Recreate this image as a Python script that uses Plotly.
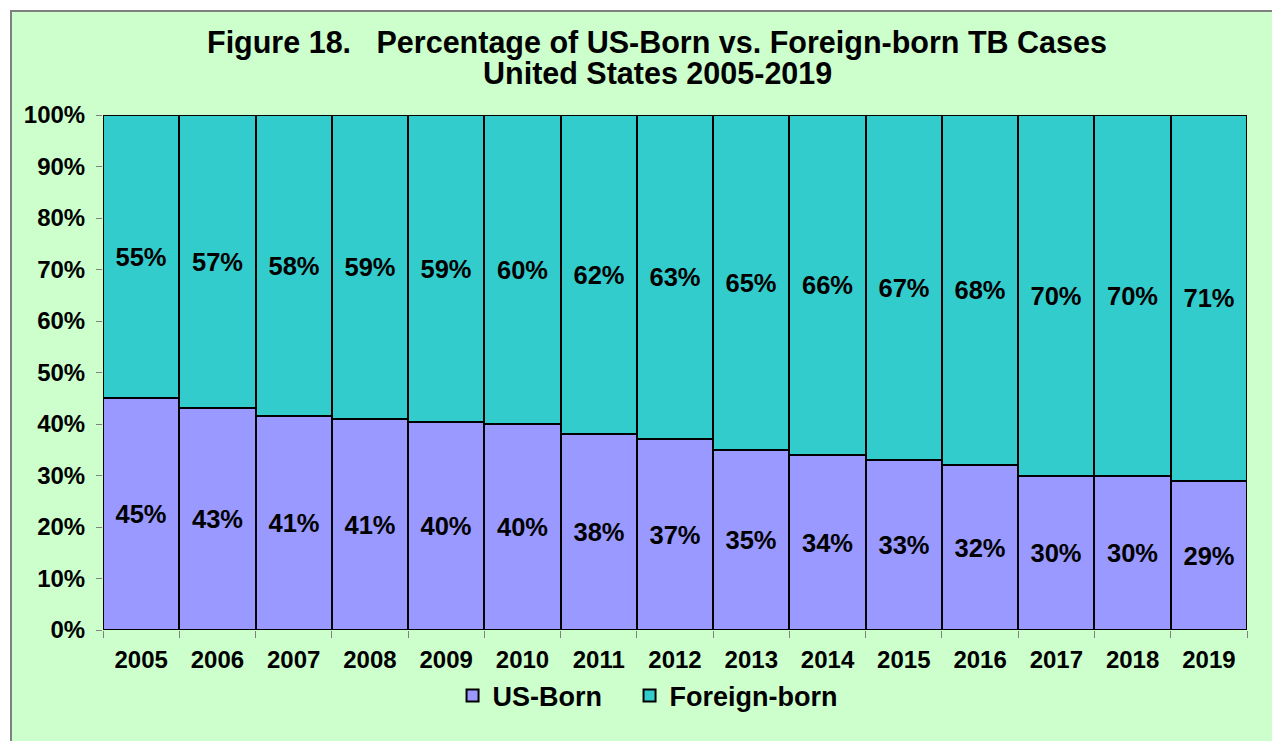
import plotly.graph_objects as go

years = ["2005", "2006", "2007", "2008", "2009", "2010", "2011", "2012",
         "2013", "2014", "2015", "2016", "2017", "2018", "2019"]
us_born = [45.0, 43.1, 41.5, 41.0, 40.4, 40.0, 38.1, 37.1, 35.0, 34.0, 33.0, 32.0, 30.0, 29.9, 28.9]
foreign_born = [55.0, 56.9, 58.5, 59.0, 59.6, 60.0, 61.9, 62.9, 65.0, 66.0, 67.0, 68.0, 70.0, 70.1, 71.1]
us_labels = ["45%", "43%", "41%", "41%", "40%", "40%", "38%", "37%", "35%", "34%", "33%", "32%", "30%", "30%", "29%"]
fb_labels = ["55%", "57%", "58%", "59%", "59%", "60%", "62%", "63%", "65%", "66%", "67%", "68%", "70%", "70%", "71%"]
y_ticks = [0, 10, 20, 30, 40, 50, 60, 70, 80, 90, 100]
y_tick_text = ["0%", "10%", "20%", "30%", "40%", "50%", "60%", "70%", "80%", "90%", "100%"]
title_line1 = "Figure 18.\u00a0\u00a0 Percentage of US-Born vs. Foreign-born TB Cases"
title_line2 = "United States 2005-2019"

FONT = "Liberation Sans, Arial, sans-serif"
BG = "#CCFFCC"

fig = go.Figure()
fig.add_trace(go.Bar(
    x=years, y=us_born, name="US-Born\u00a0\u00a0\u00a0",
    marker=dict(color="#9999FF", line=dict(color="black", width=2)),
    text=us_labels, textposition="inside", insidetextanchor="middle",
    textfont=dict(family=FONT, size=25.5, color="black", weight="bold"),
    textangle=0, hoverinfo="skip",
))
fig.add_trace(go.Bar(
    x=years, y=foreign_born, name="Foreign-born",
    marker=dict(color="#33CCCC", line=dict(color="black", width=2)),
    text=fb_labels, textposition="inside", insidetextanchor="middle",
    textfont=dict(family=FONT, size=25.5, color="black", weight="bold"),
    textangle=0, hoverinfo="skip",
))

title_font = dict(family=FONT, size=30.5, color="black", weight="bold")

fig.update_layout(
    width=1280, height=741,
    barmode="stack", bargap=0,
    paper_bgcolor="white", plot_bgcolor=BG,
    margin=dict(l=95, r=41, t=107, b=119, autoexpand=False),
    font=dict(family=FONT, color="black", weight="bold"),
    showlegend=True,
    legend=dict(
        orientation="h", x=0.476, xanchor="center", y=-0.128, yanchor="middle",
        font=dict(family=FONT, size=27, color="black", weight="bold"),
        bgcolor="rgba(0,0,0,0)", traceorder="normal",
    ),
    uniformtext=dict(minsize=25, mode="show"),
    annotations=[
        dict(text=title_line1, xref="paper", yref="paper", x=0.4843, y=1.1417,
             xanchor="center", yanchor="middle", showarrow=False, font=title_font),
        dict(text=title_line2, xref="paper", yref="paper", x=0.4843, y=1.0816,
             xanchor="center", yanchor="middle", showarrow=False, font=title_font),
    ],
    shapes=[dict(
        type="rect", xref="paper", yref="paper",
        x0=(3 - 95) / 1144, x1=1.1, y0=-0.3, y1=(622 - 3) / 515,
        fillcolor=BG, line=dict(color="#808080", width=2), layer="below",
    )],
)

fig.update_xaxes(
    type="category", range=[-0.5, 14.5],
    tickson="boundaries", ticks="outside", ticklen=7, tickcolor="#808080",
    tickfont=dict(family=FONT, size=24, color="black", weight="bold"),
    ticklabelstandoff=13,
    showline=False, showgrid=False, zeroline=False,
)
fig.update_yaxes(
    range=[0, 100], tickvals=y_ticks, ticktext=y_tick_text,
    ticks="outside", ticklen=6, tickcolor="#808080",
    tickfont=dict(family=FONT, size=24, color="black", weight="bold"),
    ticklabelstandoff=6,
    showline=False, showgrid=False, zeroline=False,
)

fig.write_html("out.html")
